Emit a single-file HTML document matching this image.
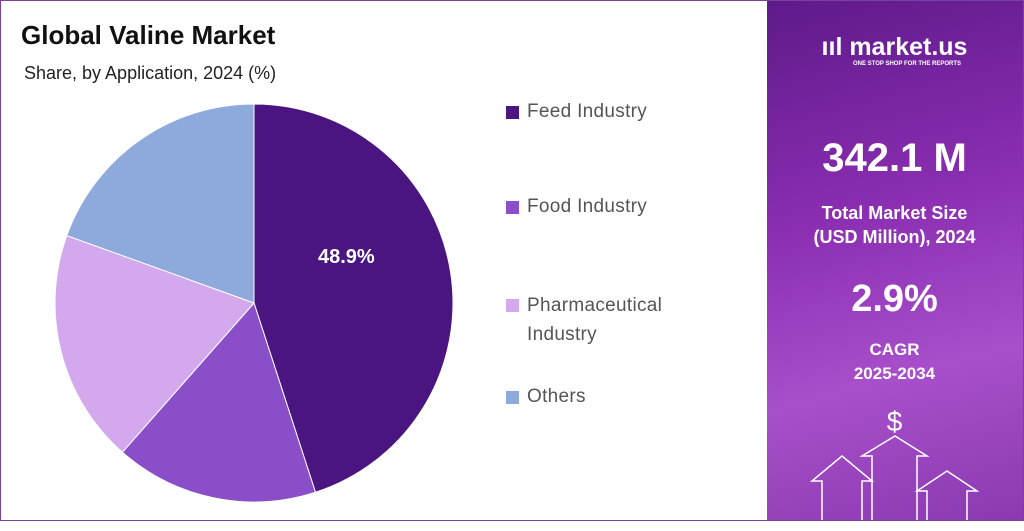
<!DOCTYPE html>
<html><head><meta charset="utf-8"><style>
body{margin:0;width:1024px;height:521px;overflow:hidden;background:#fff;font-family:"Liberation Sans",sans-serif}
#wrap{position:absolute;left:0;top:0;width:1022px;height:519px;border:1px solid #7b3fa0}
.t{position:absolute;color:#222}
.leg{position:absolute;left:505px;font-size:19px;color:#555;display:flex;align-items:flex-start;letter-spacing:0.3px}
.sw{width:13px;height:13px;margin:5px 8px 0 0;flex:none}
#right{position:absolute;left:766px;top:0;width:256px;height:519px;background:linear-gradient(165deg,#5e1a8a 0%,#8b2eb2 40%,#a84fcb 70%,#8a3ab0 100%)}
.w{position:absolute;width:255px;text-align:center;color:#fff;font-weight:bold}
</style></head><body>
<div id="wrap">
<div class="t" style="left:20px;top:19px;font-size:26px;font-weight:bold;color:#111">Global Valine Market</div>
<div class="t" style="left:23px;top:62px;font-size:18px">Share, by Application, 2024 (%)</div>
<svg id="pie" width="500" height="519" style="position:absolute;left:0;top:0"></svg>
<div class="leg" style="top:100px"><div class="sw" style="background:#4a1580"></div>Feed Industry</div>
<div class="leg" style="top:195px"><div class="sw" style="background:#8a4fc8"></div>Food Industry</div>
<div class="leg" style="top:290px;line-height:29px"><div class="sw" style="background:#d4a8ec;margin-top:8px"></div>Pharmaceutical<br>Industry</div>
<div class="leg" style="top:385px"><div class="sw" style="background:#8eaadc"></div>Others</div>
<div id="right">
<div class="w" style="top:32px;font-size:25px">ııl market.us</div>
<div class="w" style="top:60px;font-size:6px;left:40px;width:200px">ONE STOP SHOP FOR THE REPORTS</div>
<div class="w" style="top:135px;font-size:40px">342.1 M</div>
<div class="w" style="top:200px;font-size:18px;line-height:24px">Total Market Size<br>(USD Million), 2024</div>
<div class="w" style="top:277px;font-size:38px">2.9%</div>
<div class="w" style="top:337px;font-size:17px;line-height:24px">CAGR<br>2025-2034</div>
<div class="w" style="top:405px;font-size:28px;font-weight:normal">$</div>
<svg width="255" height="100" style="position:absolute;left:0;top:430px" fill="none" stroke="#fff" stroke-width="1.5">
<path d="M55 89V50H45L75 25L105 50H95V89"/><path d="M105 89V25H95L128 5L160 25H150V89"/><path d="M160 89V60H150L180 40L210 60H200V89"/></svg>
</div>
</div>
<script>
const categories=["Feed Industry","Food Industry","Pharmaceutical Industry","Others"];
const shares=[45.0,16.5,19.0,19.5];
const shareLabels=["48.9%"];
const colors=["#4a1580","#8a4fc8","#d4a8ec","#8eaadc"];
const svg=document.getElementById('pie');
const cx=253,cy=302,r=199,NS="http://www.w3.org/2000/svg";
const total=shares.reduce((a,b)=>a+b,0);
let a0=0;
function pt(a){return [cx+r*Math.sin(a),cy-r*Math.cos(a)];}
shares.forEach((v,i)=>{
 const a1=a0+v/total*2*Math.PI;
 const p0=pt(a0),p1=pt(a1);
 const p=document.createElementNS(NS,'path');
 p.setAttribute('d',`M${cx},${cy}L${p0[0]},${p0[1]}A${r},${r} 0 ${a1-a0>Math.PI?1:0} 1 ${p1[0]},${p1[1]}Z`);
 p.setAttribute('fill',colors[i]);p.setAttribute('stroke','#fff');p.setAttribute('stroke-width','1');
 
 
 svg.appendChild(p);
 if(i===0){
  const m=(a0+a1)/2;
  const t=document.createElementNS(NS,'text');
  t.setAttribute('x',cx+r*0.48*Math.sin(m)-2);t.setAttribute('y',cy-r*0.48*Math.cos(m)-25);
  t.setAttribute('fill','#fff');t.setAttribute('font-size','20');t.setAttribute('font-weight','bold');t.setAttribute('text-anchor','middle');
  t.setAttribute('font-family','Liberation Sans, sans-serif');
  t.textContent=shareLabels[0];
  
  
  svg.appendChild(t);
 }
 a0=a1;
});
</script>
</body></html>
